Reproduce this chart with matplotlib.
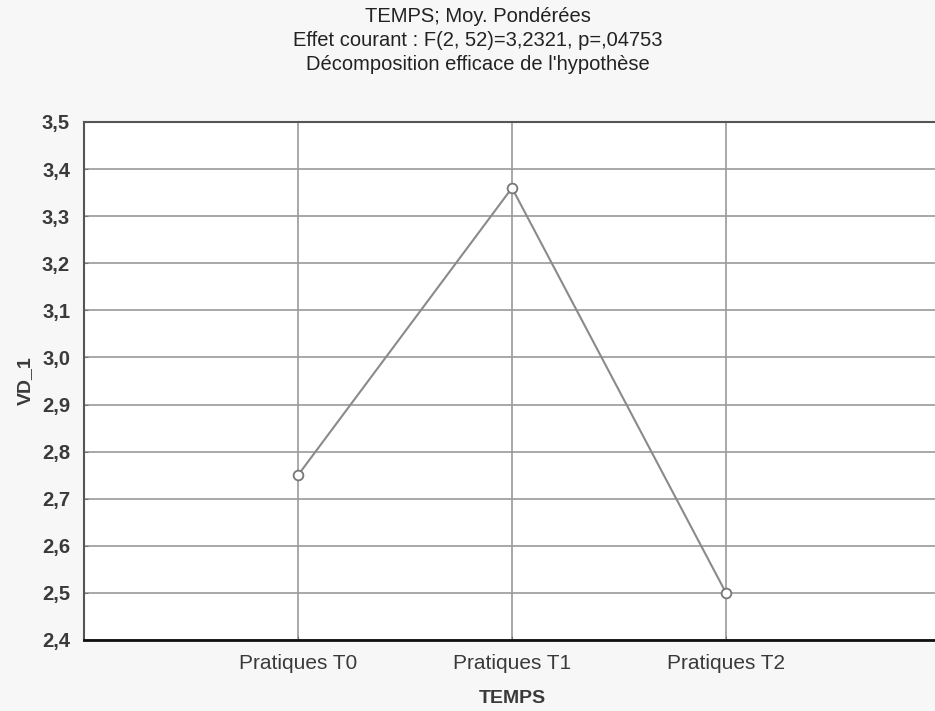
import matplotlib
matplotlib.use("Agg")
import matplotlib.pyplot as plt
import numpy as np

categories = ["Pratiques T0", "Pratiques T1", "Pratiques T2"]
values = [2.75, 3.36, 2.50]
yticks = [2.4, 2.5, 2.6, 2.7, 2.8, 2.9, 3.0, 3.1, 3.2, 3.3, 3.4, 3.5]
ytick_labels = ["2,4", "2,5", "2,6", "2,7", "2,8", "2,9", "3,0", "3,1", "3,2", "3,3", "3,4", "3,5"]
title_lines = ["TEMPS; Moy. Pondérées",
               "Effet courant : F(2, 52)=3,2321, p=,04753",
               "Décomposition efficace de l'hypothèse"]

plt.rcParams['font.family'] = ['Liberation Sans', 'DejaVu Sans']

fig = plt.figure(figsize=(9.35, 7.11), dpi=100)
fig.patch.set_facecolor('#f7f7f7')
ax = fig.add_axes([84/935, 71/711, 856/935, 518/711])
ax.set_facecolor('white')

x = np.arange(len(categories))
ax.plot(x, values, color='#8a8a8a', lw=1.5, marker='o', ms=7,
        mfc='white', mec='#777777', mew=1.3, zorder=3)

ax.set_xlim(-1, 3)
ax.set_ylim(2.4, 3.5)
ax.set_xticks(x)
ax.set_xticklabels(categories)
ax.set_yticks(yticks)
ax.set_yticklabels(ytick_labels)

ax.grid(True, color='#9a9a9a', lw=1.2)
ax.set_axisbelow(True)

for s in ['left', 'top']:
    ax.spines[s].set_color('#555555')
    ax.spines[s].set_linewidth(1.5)
ax.spines['bottom'].set_color('#111111')
ax.spines['bottom'].set_linewidth(2)
ax.spines['right'].set_visible(False)

ax.tick_params(axis='both', direction='in', length=3, color='#777777',
               labelcolor='#3a3a3a')
ax.tick_params(axis='y', pad=10, labelsize=14.5)
ax.tick_params(axis='x', pad=10, labelsize=15)
for lab in ax.get_yticklabels():
    lab.set_fontweight('bold')

ax.set_xlabel("TEMPS", fontsize=14, color='#3a3a3a', fontweight='bold', labelpad=12)
ax.set_ylabel("VD_1", fontsize=14, color='#3a3a3a', fontweight='bold', labelpad=6)

for i, t in enumerate(title_lines):
    fig.text(478/935, 1 - (16 + 24*i)/711, t, ha='center', va='center',
             fontsize=14.5, color='#222222')

fig.savefig("out.png", dpi=100, facecolor=fig.get_facecolor())
